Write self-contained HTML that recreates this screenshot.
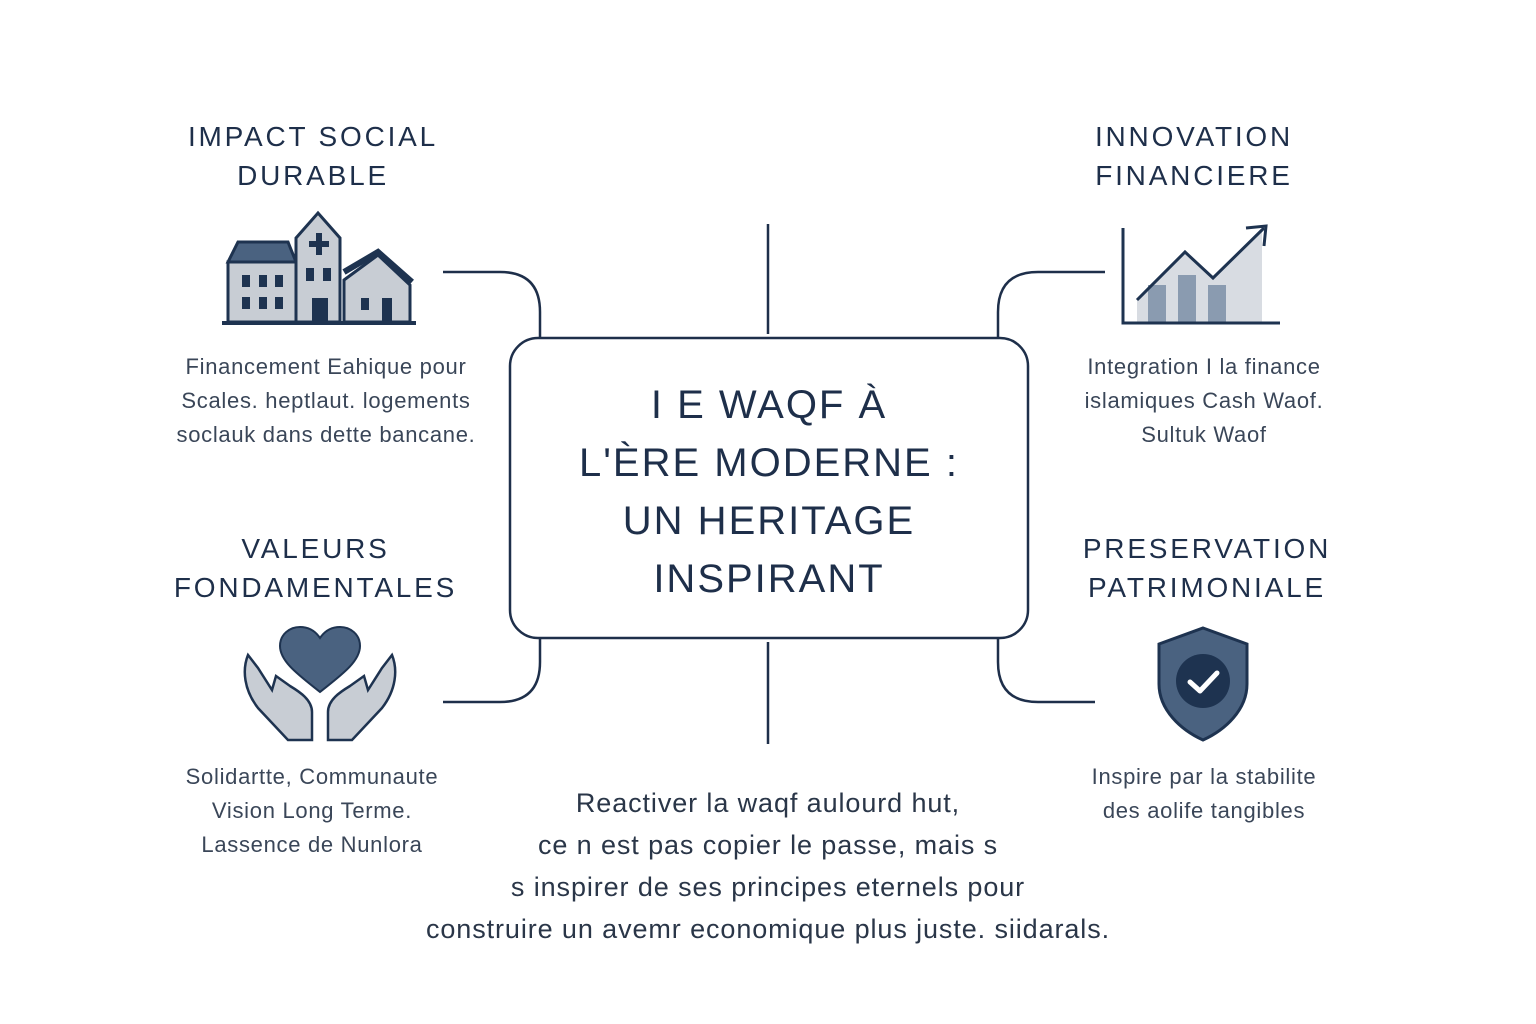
<!DOCTYPE html>
<html><head><meta charset="utf-8"><style>
body{margin:0;width:1536px;height:1024px;background:#fff;position:relative;overflow:hidden;font-family:"Liberation Sans",sans-serif;color:#1e2f4a}
.t{position:absolute;text-align:center;white-space:nowrap}
.h{font-size:28px;letter-spacing:2.8px;line-height:39px;color:#1e2f4a}
.b{font-size:22px;letter-spacing:0.7px;line-height:34px;color:#3a4658}
.c{font-size:40px;letter-spacing:2px;line-height:58px;font-weight:500}
.q{font-size:27px;letter-spacing:0.9px;line-height:42px;color:#2a3648}
</style></head><body>
<svg width="1536" height="1024" style="position:absolute;left:0;top:0">
<g fill="none" stroke="#1e2f4a" stroke-width="2.5">
<rect x="510" y="338" width="518" height="300" rx="28"/>
<path d="M443 272H500Q540 272 540 312V338"/>
<path d="M443 702H500Q540 702 540 662V638"/>
<path d="M1105 272H1038Q998 272 998 312V338"/>
<path d="M1095 702H1038Q998 702 998 662V638"/>
<path d="M768 224V334M768 642V744"/>
</g>
<g stroke="#1e3350" stroke-width="3" fill="#c8cdd4">
<path d="M228 262L238 242H288L296 262Z" fill="#4a6280"/>
<rect x="228" y="262" width="68" height="60"/>
<path d="M296 238L318 213L340 238V322H296Z"/>
<path d="M344 280L378 255L410 285V322H344Z"/>
<path d="M344 272L378 252L412 282" fill="none" stroke-width="6"/>
</g>
<g fill="#1e3350">
<rect x="242" y="275" width="8" height="12"/><rect x="259" y="275" width="8" height="12"/><rect x="275" y="275" width="8" height="12"/>
<rect x="242" y="297" width="8" height="12"/><rect x="259" y="297" width="8" height="12"/><rect x="275" y="297" width="8" height="12"/>
<rect x="306" y="268" width="8" height="13"/><rect x="323" y="268" width="8" height="13"/>
<rect x="312" y="298" width="16" height="24"/><rect x="361" y="298" width="8" height="12"/><rect x="382" y="298" width="10" height="24"/>
<rect x="316" y="233" width="6" height="22"/><rect x="309" y="241" width="20" height="6"/>
<rect x="222" y="321" width="194" height="4"/>
</g>
<g>
<path d="M1137 300L1185 252L1213 278L1262 232V322H1137Z" fill="#d8dce2"/>
<rect x="1148" y="285" width="18" height="37" fill="#8a9bb0"/>
<rect x="1178" y="275" width="18" height="47" fill="#8a9bb0"/>
<rect x="1208" y="285" width="18" height="37" fill="#8a9bb0"/>
<path d="M1123 228V323H1280" fill="none" stroke="#1e3350" stroke-width="3"/>
<path d="M1137 300L1185 252L1213 278L1264 228" fill="none" stroke="#1e3350" stroke-width="3"/>
<path d="M1246 228L1266 226L1264 246" fill="none" stroke="#1e3350" stroke-width="3"/>
</g>
<path d="M320 692C300 676 280 662 280 646C280 634 290 627 300 627C310 627 316 632 320 638C324 632 330 627 340 627C350 627 360 634 360 646C360 662 340 676 320 692Z" fill="#4a6280" stroke="#1e3350" stroke-width="2"/>
<path d="M248 655C242 670 244 690 258 708L288 740H312V712C312 700 300 692 290 686L276 676L272 690L258 668Z" fill="#c8cdd4" stroke="#1e3350" stroke-width="2.5"/>
<path d="M392 655C398 670 396 690 382 708L352 740H328V712C328 700 340 692 350 686L364 676L368 690L382 668Z" fill="#c8cdd4" stroke="#1e3350" stroke-width="2.5"/>
<path d="M1203 628L1247 644V684C1247 710 1225 730 1203 740C1181 730 1159 710 1159 684V644Z" fill="#4a6280" stroke="#1e3350" stroke-width="3"/>
<circle cx="1203" cy="681" r="27" fill="#1e3350"/>
<path d="M1190 682L1200 691L1217 673" fill="none" stroke="#fff" stroke-width="5" stroke-linecap="round" stroke-linejoin="round"/>
</svg>
<div class="t h" style="left:163px;width:300px;top:117px">IMPACT SOCIAL<br>DURABLE</div>
<div class="t h" style="left:1044px;width:300px;top:117px">INNOVATION<br>FINANCIERE</div>
<div class="t h" style="left:158px;width:315px;top:529px">VALEURS<br>FONDAMENTALES</div>
<div class="t h" style="left:1057px;width:300px;top:529px">PRESERVATION<br>PATRIMONIALE</div>
<div class="t b" style="left:146px;width:360px;top:350px">Financement Eahique pour<br>Scales. heptlaut. logements<br>soclauk dans dette bancane.</div>
<div class="t b" style="left:1024px;width:360px;top:350px">Integration I la finance<br>islamiques Cash Waof.<br>Sultuk Waof</div>
<div class="t b" style="left:132px;width:360px;top:760px">Solidartte, Communaute<br>Vision Long Terme.<br>Lassence de Nunlora</div>
<div class="t b" style="left:1024px;width:360px;top:760px">Inspire par la stabilite<br>des aolife tangibles</div>
<div class="t c" style="left:510px;width:518px;top:376px">I E WAQF À<br>L'ÈRE MODERNE :<br>UN HERITAGE<br>INSPIRANT</div>
<div class="t q" style="left:318px;width:900px;top:782px">Reactiver la waqf aulourd hut,<br>ce n est pas copier le passe, mais s<br>s inspirer de ses principes eternels pour<br>construire un avemr economique plus juste. siidarals.</div>
</body></html>
